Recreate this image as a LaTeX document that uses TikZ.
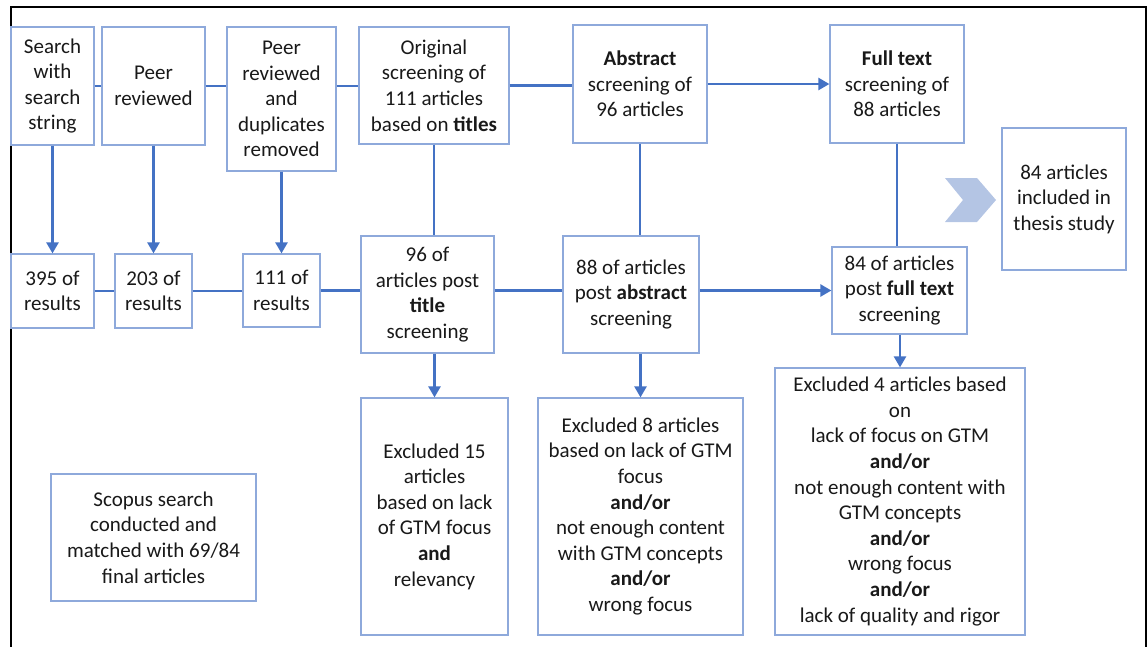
\documentclass[tikz,border=0pt]{standalone}
\usepackage{fontspec}
\setmainfont{Carlito}
\usetikzlibrary{arrows.meta}
\definecolor{linkblue}{HTML}{4472C4}
\definecolor{edgeblue}{HTML}{8EA9DB}
\definecolor{chevblue}{HTML}{B4C5E4}
\begin{document}
\begin{tikzpicture}[x=1pt,y=-1pt,
  box/.style={draw=edgeblue, line width=1.2pt, fill=white, align=center,
    inner sep=0pt, font=\fontsize{21}{25.6}\selectfont, text=black!90},
  link/.style={draw=linkblue, line width=2.4pt},
  flow/.style={link, -{Triangle[length=11pt,width=12pt]}}]
\useasboundingbox (0,0) rectangle (1148,646);
% outer frame
\draw[black, line width=2pt] (10.5,660) -- (10.5,7) -- (1146,7) -- (1146,660);

% top row
\node[box, minimum width=83pt,  minimum height=118pt] (A) at (52.5,86) {Search\\with\\search\\string};
\node[box, minimum width=103pt, minimum height=118pt] (B) at (153.5,86) {Peer\\reviewed};
\node[box, minimum width=109pt, minimum height=144pt] (C) at (281.5,99) {Peer\\reviewed\\and\\duplicates\\removed};
\node[box, minimum width=150pt, minimum height=117pt] (D) at (434,85.5) {Original\\screening of\\111 articles\\based on \textbf{titles}};
\node[box, minimum width=134pt, minimum height=118pt] (E) at (640,84) {\textbf{Abstract}\\screening of\\96 articles};
\node[box, minimum width=134pt, minimum height=118pt] (F) at (897,84) {\textbf{Full text}\\screening of\\88 articles};
\node[box, minimum width=124pt, minimum height=142pt] (G) at (1064,199) {84 articles\\included in\\thesis study};

% second row
\node[box, minimum width=83pt,  minimum height=74pt] (r395) at (52.5,291) {395 of\\results};
\node[box, minimum width=77pt,  minimum height=74pt] (r203) at (153.5,291) {203 of\\results};
\node[box, minimum width=77pt,  minimum height=73pt] (r111) at (281.5,290.5) {111 of\\results};
\node[box, minimum width=133pt, minimum height=117pt] (t96) at (427.5,294.5) {96 of\\articles post\\\textbf{title}\\screening};
\node[box, minimum width=136pt, minimum height=117pt] (a88) at (631,294.5) {88 of articles\\post \textbf{abstract}\\screening};
\node[box, minimum width=135pt, minimum height=87pt] (f84) at (899.5,290.5) {84 of articles\\post \textbf{full text}\\screening};

% exclusion boxes
\node[box, minimum width=147pt, minimum height=237pt] (x15) at (434.5,516.5) {Excluded 15\\articles\\based on lack\\of GTM focus\\\textbf{and}\\relevancy};
\node[box, minimum width=205pt, minimum height=237pt] (x8) at (640.5,516.5) {Excluded 8 articles\\based on lack of GTM\\focus\\\textbf{and/or}\\not enough content\\with GTM concepts\\\textbf{and/or}\\wrong focus};
\node[box, minimum width=250pt, minimum height=267pt] (x4) at (900,501.5) {Excluded 4 articles based\\on\\lack of focus on GTM\\\textbf{and/or}\\not enough content with\\GTM concepts\\\textbf{and/or}\\wrong focus\\\textbf{and/or}\\lack of quality and rigor};
\node[box, minimum width=205pt, minimum height=127pt] (scopus) at (153.5,537.5) {Scopus search\\conducted and\\matched with 69/84\\final articles};

% chevron pointing to the final box
\fill[chevblue] (945,178) -- (977,178) -- (996,200) -- (977,222) -- (945,222) -- (963,200) -- cycle;

% top row links
\draw[link] (A.east) -- (A.east -| B.west);
\draw[link] (B.east) -- (B.east -| C.west);
\draw[link] (B.east -| C.east) -- (B.east -| D.west);
\draw[link] (D.east) -- (D.east -| E.west);
\draw[flow] (E.east) -- (F.west);

% downward links
\draw[flow] (A.south) -- (r395.north);
\draw[flow] (B.south) -- (r203.north);
\draw[flow] (C.south) -- (r111.north);
\draw[link] (D.south) -- (D.south |- t96.north);
\draw[link] (E.south) -- (E.south |- a88.north);
\draw[link] (F.south) -- (F.south |- f84.north);

% second row links
\draw[link] (r395.east) -- (r395.east -| r203.west);
\draw[link] (r203.east) -- (r203.east -| r111.west);
\draw[link] (r111.east) -- (r111.east -| t96.west);
\draw[link] (r111.east -| t96.east) -- (r111.east -| a88.west);
\draw[flow] (f84.west -| a88.east) -- (f84.west);

% exclusion arrows
\draw[flow] (x15.north |- t96.south) -- (x15.north);
\draw[flow] (x8.north |- a88.south) -- (x8.north);
\draw[flow] (x4.north |- f84.south) -- (x4.north);
\end{tikzpicture}
\end{document}
